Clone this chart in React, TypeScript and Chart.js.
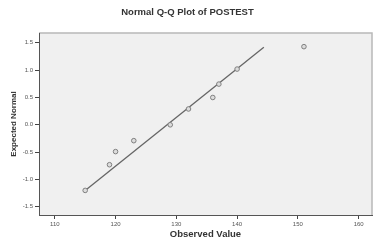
import React, { useEffect, useRef } from "react";
import { Chart, registerables } from "chart.js";

Chart.register(...registerables);

const observedValues = [115, 119, 120, 123, 129, 132, 136, 137, 140, 151];
const expectedNormal = [-1.2, -0.73, -0.49, -0.29, 0.0, 0.29, 0.5, 0.745, 1.02, 1.43];
const lineX = [115, 144.4];
const lineY = [-1.2, 1.42];
const xTicks = [110, 120, 130, 140, 150, 160];
const yTicks = [-1.5, -1.0, -0.5, 0.0, 0.5, 1.0, 1.5];

const bgPlugin = {
  id: "plotBg",
  beforeDraw(chart: any) {
    const { ctx, chartArea } = chart;
    ctx.save();
    ctx.fillStyle = "#f0f0f0";
    ctx.fillRect(chartArea.left, chartArea.top, chartArea.right - chartArea.left, chartArea.bottom - chartArea.top);
    ctx.strokeStyle = "#b8b8b8";
    ctx.lineWidth = 1.5;
    ctx.beginPath();
    ctx.moveTo(chartArea.left, chartArea.top);
    ctx.lineTo(chartArea.right, chartArea.top);
    ctx.lineTo(chartArea.right, chartArea.bottom);
    ctx.stroke();
    ctx.restore();
  },
};

export default function App() {
  const ref = useRef<HTMLCanvasElement>(null);
  useEffect(() => {
    document.body.style.margin = "0";
    const font = "'Liberation Sans', Arial, sans-serif";
    const chart = new Chart(ref.current!, {
      type: "scatter",
      data: {
        datasets: [
          {
            data: observedValues.map((x, i) => ({ x, y: expectedNormal[i] })),
            pointRadius: 2.3,
            pointBorderWidth: 1,
            pointBorderColor: "#808080",
            pointBackgroundColor: "#dcdcdc",
            showLine: false,
          },
          {
            data: lineX.map((x, i) => ({ x, y: lineY[i] })),
            showLine: true,
            pointRadius: 0,
            borderColor: "#666",
            borderWidth: 1.3,
          },
        ],
      },
      plugins: [bgPlugin],
      options: {
        animation: false,
        responsive: false,
        layout: { padding: { top: 0, right: 2, bottom: 0, left: 0 } },
        plugins: {
          legend: { display: false },
          tooltip: { enabled: false },
          title: {
            display: true,
            text: "Normal Q-Q Plot of POSTEST",
            color: "#333",
            font: { family: font, size: 9.5, weight: "bold" },
            padding: { top: 6.3, bottom: 15.3 },
          },
        },
        scales: {
          x: {
            type: "linear",
            min: 107.4,
            max: 162.2,
            afterBuildTicks: (s: any) => {
              s.ticks = xTicks.map((v) => ({ value: v }));
            },
            afterFit: (s: any) => {
              s.height = 28;
            },
            ticks: {
              color: "#555",
              font: { family: font, size: 6 },
              padding: 2,
              maxRotation: 0,
              callback: (v: any) => String(v),
            },
            grid: {
              drawOnChartArea: false,
              drawTicks: true,
              tickLength: 4,
              tickColor: "#444",
            },
            border: { color: "#555", width: 1 },
            title: {
              display: true,
              text: "Observed Value",
              color: "#333",
              font: { family: font, size: 9.5, weight: "bold" },
              padding: { top: 0, bottom: 3.3 },
            },
          },
          y: {
            type: "linear",
            min: -1.65,
            max: 1.68,
            afterBuildTicks: (s: any) => {
              s.ticks = yTicks.map((v) => ({ value: v }));
            },
            afterFit: (s: any) => {
              s.width = 39;
            },
            ticks: {
              color: "#555",
              font: { family: font, size: 6 },
              padding: 2,
              callback: (v: any) => Number(v).toFixed(1),
            },
            grid: {
              drawOnChartArea: false,
              drawTicks: true,
              tickLength: 4,
              tickColor: "#444",
            },
            border: { color: "#555", width: 1 },
            title: {
              display: true,
              text: "Expected Normal",
              color: "#333",
              font: { family: font, size: 8, weight: "bold" },
              padding: { top: 9, bottom: 0 },
            },
          },
        },
      },
    } as any);
    return () => chart.destroy();
  }, []);
  return <canvas ref={ref} width={377} height={243} style={{ display: "block", width: 377, height: 243 }} />;
}
